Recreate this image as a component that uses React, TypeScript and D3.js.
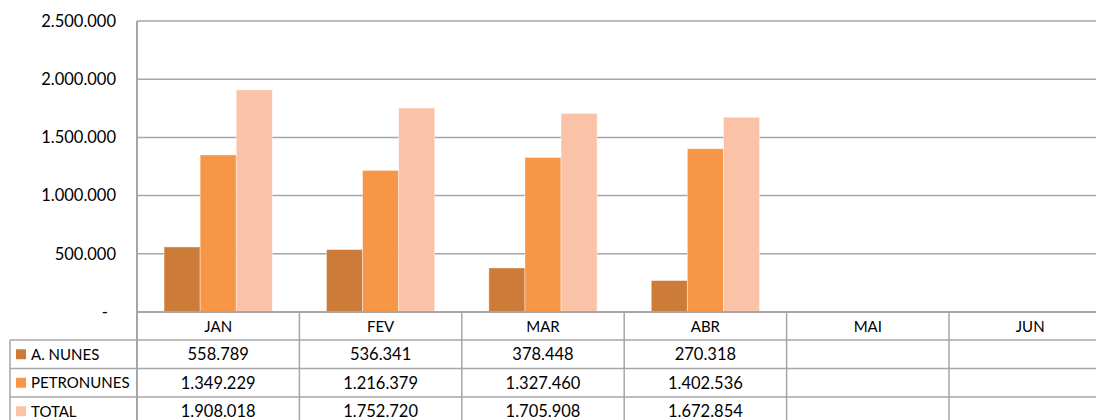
import * as d3 from "d3";

// months shown on the category axis / table header
const months = ["JAN", "FEV", "MAR", "ABR", "MAI", "JUN"];

// series (null = no data yet)
const seriesNames = ["A. NUNES", "PETRONUNES", "TOTAL"];
const aNunes = [558789, 536341, 378448, 270318, null, null];
const petronunes = [1349229, 1216379, 1327460, 1402536, null, null];
const total = [1908018, 1752720, 1705908, 1672854, null, null];

const yTicks = [0, 500000, 1000000, 1500000, 2000000, 2500000];
const colors = ["#CC7B38", "#F79646", "#FAC3A8"];

const W = 1096;
const H = 420;

const ptBR = d3.formatLocale({decimal: ",", thousands: ".", grouping: [3], currency: ["R$", ""]});
const fmt = ptBR.format(",d");

export default function App() {
    const series = [aNunes, petronunes, total];

    const plotLeft = 137;
    const plotTop = 21;
    const plotBottom = 312;
    const bandW = 162.4;

    const x = d3.scaleBand<string>()
        .domain(months)
        .range([plotLeft, plotLeft + bandW * months.length]);
    // 3 bars per month, ~27px gap on each side
    const x1 = d3.scaleBand<number>()
        .domain(d3.range(seriesNames.length))
        .range([0, x.bandwidth()])
        .paddingOuter(0.75)
        .paddingInner(0);
    const y = d3.scaleLinear().domain([0, 2500000]).range([plotBottom, plotTop]);

    const rowH = 28.5;
    const headerBottom = 340;
    const rowTop = (i: number) => headerBottom + i * rowH;
    const legendLeft = 10;
    const grid = "#A6A6A6";
    const font = "Lato, 'Open Sans', sans-serif";
    const fs = 16.5; // numbers
    const fsLabel = 15; // words

    return (
        <div style={{position: "absolute", left: 0, top: 0}}>
            <svg width={W} height={H} style={{display: "block"}} fontFamily={font}>
                {/* gridlines + y labels */}
                {yTicks.map(t => (
                    <g key={t}>
                        <line x1={plotLeft} x2={W} y1={y(t)} y2={y(t)} stroke={grid} strokeWidth={1.5} />
                        <text x={t === 0 ? 108 : 116} y={y(t)} dy="0.35em" textAnchor="end" fontSize={fs} fill="#000">
                            {t === 0 ? "-" : fmt(t)}
                        </text>
                    </g>
                ))}

                {/* bars */}
                {months.map((m, i) => (
                    <g key={m} transform={`translate(${x(m)},0)`}>
                        {series.map((s, k) => s[i] == null ? null : (
                            <rect key={k}
                                  x={x1(k)}
                                  y={y(s[i] as number)}
                                  width={x1.bandwidth()}
                                  height={plotBottom - y(s[i] as number)}
                                  fill={colors[k]}
                                  stroke="#fff"
                                  strokeOpacity={0.5}
                                  strokeWidth={0.8} />
                        ))}
                    </g>
                ))}

                {/* table: horizontal lines */}
                {seriesNames.map((n, r) => (
                    <line key={n} x1={legendLeft} x2={W} y1={rowTop(r)} y2={rowTop(r)} stroke={grid} strokeWidth={1.5} />
                ))}
                <line x1={plotLeft} x2={W} y1={plotBottom} y2={plotBottom} stroke={grid} strokeWidth={2} />
                {/* vertical lines */}
                <line x1={legendLeft} x2={legendLeft} y1={headerBottom} y2={H} stroke={grid} strokeWidth={1.5} />
                <line x1={plotLeft} x2={plotLeft} y1={plotTop} y2={H} stroke={grid} strokeWidth={2} />
                {months.map(m => (
                    <line key={m} x1={(x(m) as number) + x.bandwidth()} x2={(x(m) as number) + x.bandwidth()}
                          y1={plotBottom} y2={H} stroke={grid} strokeWidth={1.5} />
                ))}

                {/* header */}
                {months.map(m => (
                    <text key={m} x={(x(m) as number) + x.bandwidth() / 2} y={(plotBottom + headerBottom) / 2 + 1}
                          dy="0.35em" textAnchor="middle" fontSize={fsLabel}>{m}</text>
                ))}

                {/* rows */}
                {seriesNames.map((n, r) => (
                    <g key={n}>
                        <rect x={16} y={rowTop(r) + rowH / 2 - 5} width={10} height={10} fill={colors[r]} />
                        <text x={31} y={rowTop(r) + rowH / 2} dy="0.35em" fontSize={fsLabel}>{n}</text>
                        {months.map((m, i) => series[r][i] == null ? null : (
                            <text key={m} x={(x(m) as number) + x.bandwidth() / 2} y={rowTop(r) + rowH / 2}
                                  dy="0.35em" textAnchor="middle" fontSize={fs}>{fmt(series[r][i] as number)}</text>
                        ))}
                    </g>
                ))}
            </svg>
        </div>
    );
}
